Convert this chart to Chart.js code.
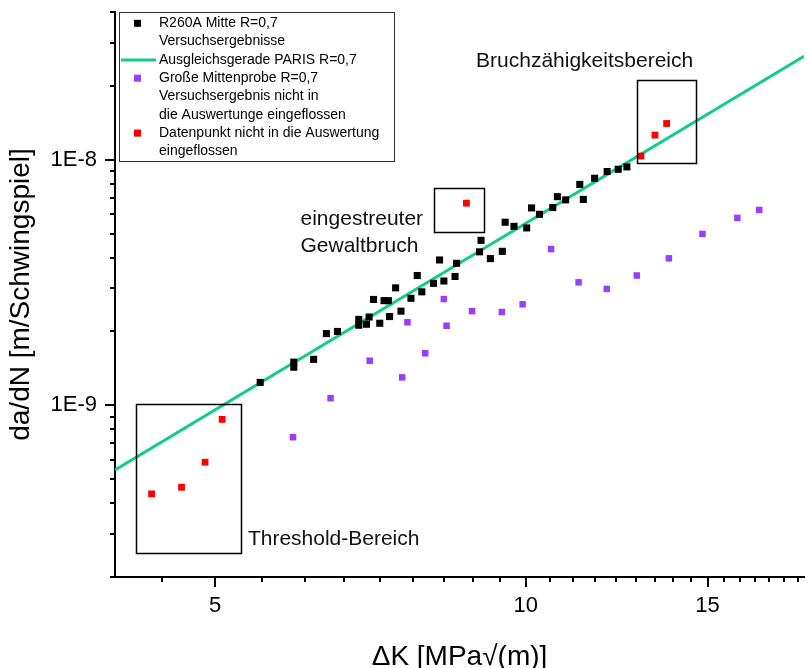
<!DOCTYPE html>
<html>
<head>
<meta charset="utf-8">
<script src="https://cdn.jsdelivr.net/npm/chart.js@4.4.1/dist/chart.umd.min.js"></script>
<style>
  html, body { margin: 0; padding: 0; background: #fff; overflow: hidden; }
</style>
</head>
<body>
<canvas id="chart" width="809" height="668"></canvas>
<script>
'use strict';

const FONT = "'Liberation Sans', Arial, sans-serif";

// R260A Mitte R=0,7 - Versuchsergebnisse (ΔK in MPa√m, da/dN in m/Schwingspiel)
const blackK = [5.53, 5.96, 5.96, 6.23, 6.41, 6.57, 6.89, 6.89, 7.01, 7.05, 7.12,
    7.22, 7.29, 7.36, 7.38, 7.48, 7.57, 7.74, 7.85, 7.93, 8.14, 8.25, 8.33, 8.54,
    8.57, 9.02, 9.05, 9.24, 9.49, 9.55, 9.74, 10.02, 10.13, 10.31, 10.62, 10.73,
    10.93, 11.28, 11.37, 11.66, 11.99, 12.29, 12.53];
const blackRate = [1.24e-9, 1.50e-9, 1.43e-9, 1.54e-9, 1.96e-9, 2.00e-9, 2.24e-9,
    2.12e-9, 2.14e-9, 2.29e-9, 2.70e-9, 2.16e-9, 2.67e-9, 2.67e-9, 2.30e-9, 3.01e-9,
    2.42e-9, 2.73e-9, 3.38e-9, 2.90e-9, 3.14e-9, 3.91e-9, 3.21e-9, 3.35e-9, 3.79e-9,
    4.22e-9, 4.70e-9, 3.96e-9, 4.24e-9, 5.57e-9, 5.36e-9, 5.28e-9, 6.37e-9, 6.00e-9,
    6.39e-9, 7.08e-9, 6.87e-9, 7.94e-9, 6.90e-9, 8.41e-9, 8.96e-9, 9.15e-9, 9.36e-9];

// Große Mittenprobe R=0,7
const purpleK = [5.95, 6.47, 7.06, 7.59, 7.68, 7.99, 8.33, 8.38, 8.87, 9.48, 9.93,
    10.58, 11.25, 11.98, 12.81, 13.76, 14.83, 16.03, 16.83];
const purpleRate = [7.42e-10, 1.07e-9, 1.52e-9, 1.30e-9, 2.18e-9, 1.63e-9, 2.71e-9,
    2.11e-9, 2.42e-9, 2.40e-9, 2.58e-9, 4.33e-9, 3.17e-9, 2.98e-9, 3.38e-9, 3.97e-9,
    4.99e-9, 5.80e-9, 6.25e-9];

// points left out of the evaluation
const redK = [4.34, 4.64, 4.89, 5.08, 8.76, 12.93, 13.34, 13.69];
const redRate = [4.36e-10, 4.64e-10, 5.87e-10, 8.77e-10, 6.66e-9, 1.036e-8, 1.261e-8, 1.406e-8];

// Paris fit line, end points
const parisK = [4, 18.6];
const parisRate = [5.46e-10, 2.64e-8];

// axis ticks
const xTicks = [4.444, 5, 5.556, 6.111, 6.667, 7.222, 7.778, 8.333, 8.889, 9.444,
    10, 10.556, 11.111, 11.667, 12.222, 12.778, 13.333, 13.889, 14.444,
    15, 15.556, 16.111, 16.667, 17.222, 17.778, 18.333];
const xMajor = [5, 10, 15];
const yTicks = [2e-10, 3e-10, 4e-10, 5e-10, 6e-10, 7e-10, 8e-10, 9e-10,
    1e-9, 2e-9, 3e-9, 4e-9, 5e-9, 6e-9, 7e-9, 8e-9, 9e-9,
    1e-8, 2e-8, 3e-8, 4e-8];
const yMajor = [1e-9, 1e-8];
const yMajorLabels = ['1E-9', '1E-8'];

// marked regions [kFrom, kTo], [rateFrom, rateTo]
const regionK = [[4.19, 5.30], [8.15, 9.11], [12.82, 14.61]];
const regionRate = [[2.5e-10, 1.01e-9], [5.10e-9, 7.71e-9], [9.69e-9, 2.107e-8]];

// region captions, anchored at their left edge
const noteText = [['Threshold-Bereich'], ['eingestreuter', 'Gewaltbruch'], ['Bruchzähigkeitsbereich']];
const noteK = [5.38, 6.05, 8.95];
const noteRate = [2.84e-10, 5.74e-9, 2.51e-8];

function toPoints(xs, ys) {
    return xs.map((x, i) => ({x: x, y: ys[i]}));
}

// Tick marks pointing outward, long for labelled ticks
const tickMarks = {
    id: 'tickMarks',
    afterDatasetsDraw(chart) {
        const ctx = chart.ctx;
        const xs = chart.scales.x, ys = chart.scales.y;
        ctx.save();
        ctx.strokeStyle = '#000';
        ctx.lineWidth = 2;
        ctx.beginPath();
        xs.ticks.forEach(t => {
            const p = Math.round(xs.getPixelForValue(t.value));
            const len = xMajor.includes(t.value) ? 10 : 5;
            ctx.moveTo(p, xs.top);
            ctx.lineTo(p, xs.top + len);
        });
        ys.ticks.forEach(t => {
            const p = Math.round(ys.getPixelForValue(t.value));
            const len = yMajor.includes(t.value) ? 10 : 5;
            ctx.moveTo(ys.right, p);
            ctx.lineTo(ys.right - len, p);
        });
        ctx.stroke();
        ctx.restore();
    }
};

// Framed regions and their captions
const regions = {
    id: 'regions',
    afterDatasetsDraw(chart) {
        const ctx = chart.ctx;
        const xs = chart.scales.x, ys = chart.scales.y;
        ctx.save();
        ctx.strokeStyle = '#000';
        ctx.lineWidth = 1.5;
        regionK.forEach((k, i) => {
            const x0 = xs.getPixelForValue(k[0]), x1 = xs.getPixelForValue(k[1]);
            const y0 = ys.getPixelForValue(regionRate[i][1]), y1 = ys.getPixelForValue(regionRate[i][0]);
            ctx.strokeRect(Math.round(x0) + 0.5, Math.round(y0) + 0.5, Math.round(x1 - x0), Math.round(y1 - y0));
        });
        ctx.fillStyle = '#111';
        ctx.font = '21px ' + FONT;
        ctx.textAlign = 'left';
        ctx.textBaseline = 'middle';
        noteText.forEach((lines, i) => {
            const x = xs.getPixelForValue(noteK[i]);
            const y = ys.getPixelForValue(noteRate[i]);
            lines.forEach((line, j) => ctx.fillText(line, x, y + j * 27));
        });
        ctx.restore();
    }
};

// Boxed legend in the upper left corner, labels may span several lines
const boxLegend = {
    id: 'boxLegend',
    afterDraw(chart) {
        const ctx = chart.ctx;
        const area = chart.chartArea;
        const left = area.left + 4, top = area.top;
        const rowH = 18.3;
        ctx.save();
        ctx.fillStyle = '#fff';
        ctx.fillRect(left, top, 275, 149);
        ctx.strokeStyle = '#333';
        ctx.lineWidth = 1;
        ctx.strokeRect(left + 0.5, top + 0.5, 275, 149);
        ctx.font = '14px ' + FONT;
        ctx.textBaseline = 'middle';
        let row = 0;
        chart.data.datasets.forEach(ds => {
            const lines = ds.label.split('\n');
            const y = top + 11.3 + row * rowH;
            if (ds.showLine) {
                ctx.strokeStyle = ds.borderColor;
                ctx.lineWidth = 3;
                ctx.beginPath();
                ctx.moveTo(left + 2, y);
                ctx.lineTo(left + 37, y);
                ctx.stroke();
            } else {
                ctx.fillStyle = ds.backgroundColor;
                ctx.fillRect(left + 15, y - 3.5, 7, 7);
            }
            ctx.fillStyle = '#000';
            lines.forEach((line, j) => ctx.fillText(line, left + 40, y + j * rowH));
            row += lines.length;
        });
        ctx.restore();
    }
};

new Chart(document.getElementById('chart'), {
    type: 'scatter',
    data: {
        datasets: [
            {
                label: 'R260A Mitte R=0,7\nVersuchsergebnisse',
                data: toPoints(blackK, blackRate),
                backgroundColor: '#000',
                pointStyle: 'rect', pointRadius: 5, borderWidth: 0,
                order: 2
            },
            {
                label: 'Ausgleichsgerade PARIS R=0,7',
                data: toPoints(parisK, parisRate),
                showLine: true,
                borderColor: '#10cc88',
                borderWidth: 3,
                pointRadius: 0,
                order: 5
            },
            {
                label: 'Große Mittenprobe R=0,7\nVersuchsergebnis nicht in\ndie Auswertunge eingeflossen',
                data: toPoints(purpleK, purpleRate),
                backgroundColor: '#9b3dff',
                pointStyle: 'rect', pointRadius: 4.6, borderWidth: 0,
                order: 3
            },
            {
                label: 'Datenpunkt nicht in die Auswertung\neingeflossen',
                data: toPoints(redK, redRate),
                backgroundColor: '#ff0000',
                pointStyle: 'rect', pointRadius: 4.8, borderWidth: 0,
                order: 1
            }
        ]
    },
    options: {
        responsive: false,
        animation: false,
        devicePixelRatio: 1,
        layout: {padding: {top: 12, right: 0, bottom: 0, left: 0}},
        plugins: {
            legend: {display: false},
            tooltip: {enabled: false}
        },
        scales: {
            x: {
                type: 'logarithmic',
                position: 'bottom',
                min: 4,
                max: 18.6,
                grid: {display: false, drawTicks: true, tickLength: 10},
                border: {display: true, color: '#000', width: 2},
                ticks: {
                    autoSkip: false,
                    maxRotation: 0,
                    padding: 6,
                    color: '#000',
                    font: {family: FONT, size: 22},
                    callback: (v) => xMajor.includes(v) ? String(v) : ''
                },
                title: {
                    display: true,
                    text: 'ΔK [MPa√(m)]',
                    color: '#000',
                    font: {family: FONT, size: 28, lineHeight: 0.8},
                    padding: {top: 0, bottom: 0}
                },
                afterBuildTicks: (s) => { s.ticks = xTicks.map(v => ({value: v})); },
                afterFit: (s) => { s.height = 91; s.paddingLeft = 0; s.paddingRight = 0; }
            },
            y: {
                type: 'logarithmic',
                position: 'left',
                min: 2e-10,
                max: 4e-8,
                grid: {display: false, drawTicks: true, tickLength: 10},
                border: {display: true, color: '#000', width: 2},
                ticks: {
                    autoSkip: false,
                    padding: 8,
                    color: '#000',
                    font: {family: FONT, size: 22},
                    callback: (v) => {
                        const i = yMajor.indexOf(v);
                        return i >= 0 ? yMajorLabels[i] : '';
                    }
                },
                title: {
                    display: true,
                    text: 'da/dN [m/Schwingspiel]',
                    color: '#000',
                    font: {family: FONT, size: 28},
                    padding: {top: 4, bottom: 0}
                },
                afterBuildTicks: (s) => { s.ticks = yTicks.map(v => ({value: v})); },
                afterFit: (s) => { s.width = 115; s.paddingTop = 0; s.paddingBottom = 0; }
            }
        }
    },
    plugins: [tickMarks, regions, boxLegend]
});
</script>
</body>
</html>
